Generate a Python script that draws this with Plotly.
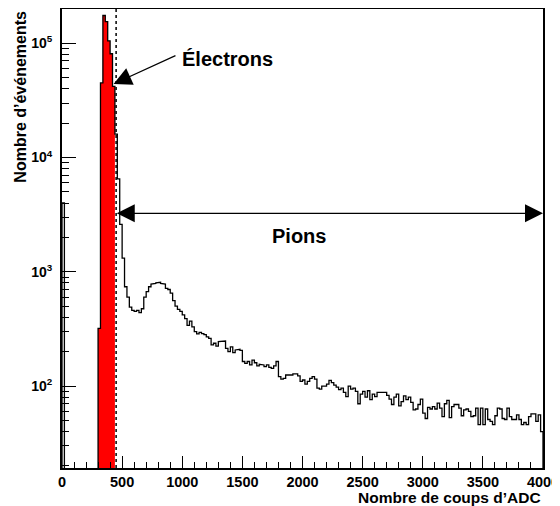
import numpy as np
import plotly.graph_objects as go

# ADC spectrum, 20-count bins from 0 to 4000
BIN_WIDTH = 20
first_bin = [4000]
empty_bins = [0, 0, 0, 0, 0, 0, 0, 0, 0, 0, 0, 0, 0, 0]          # 20 .. 280
electron_peak = [320, 45000, 175000, 155000, 105000, 81000, 42000]  # 300 .. 420
falloff = [16000, 6500, 2600, 1320, 740, 600, 490, 460, 450, 460, 440, 475]  # 440 .. 660
pion_bump = [600, 670, 740, 780, 790, 800, 810, 790, 780, 715, 700, 650,
             560, 500, 470, 450, 420, 390, 340, 370, 330, 300]    # 680 .. 1100
tail_a = [286, 295, 288, 282, 270, 262, 229, 237, 224, 245, 248, 248, 214, 200,
          220, 196, 207, 210, 205, 164, 158, 164, 153, 169, 160, 150, 155, 153,
          148, 153, 146, 143, 150, 164, 121, 115, 117, 125, 125, 125, 128, 128,
          123, 110]                                              # 1120 .. 1980
tail_b = [113, 104, 110, 117, 121, 115, 96, 94, 100, 100, 104, 112, 107, 102,
          98, 93, 96, 88, 81, 100, 94, 96, 90, 70, 85, 90, 80, 91, 76, 85,
          81, 88, 88, 88, 88, 83, 77, 69, 80, 85, 67, 73, 82, 76, 80, 72,
          62, 63, 69, 77]                                        # 2000 .. 2980
tail_c = [58, 52, 65, 63, 66, 63, 71, 64, 54, 70, 75, 53, 66, 69, 69, 64,
          55, 62, 63, 60, 54, 55, 64, 46, 64, 46, 63, 51, 49, 46, 55, 64,
          63, 52, 51, 64, 54, 51, 51, 56, 51, 46, 48, 46, 54, 57, 57, 49,
          56, 40]                                                # 3000 .. 3980

electron_window = (300, 440)   # red filled bins
cut_value = 450                # dotted line

counts = np.array(first_bin + empty_bins + electron_peak + falloff + pion_bump
                  + tail_a + tail_b + tail_c, dtype=float)
edges = np.arange(len(counts) + 1) * BIN_WIDTH

FLOOR = 1.0  # below the visible range, stands in for empty bins on log axis
shown = np.where(counts > 0, counts, FLOOR)

# step outline
xs = np.concatenate([[edges[0]], np.repeat(edges, 2)[1:-1], [edges[-1]]])
ys = np.concatenate([[FLOOR], np.repeat(shown, 2), [FLOOR]])

# red filled region
sel = (edges[:-1] >= electron_window[0]) & (edges[1:] <= electron_window[1])
lo = edges[:-1][sel]
hi = edges[1:][sel]
fx = np.concatenate([[lo[0]], np.ravel(np.column_stack([lo, hi])), [hi[-1]]])
fy = np.concatenate([[FLOOR], np.repeat(shown[sel], 2), [FLOOR]])

FONT = "Liberation Sans"

fig = go.Figure()
fig.add_trace(go.Scatter(x=fx, y=fy, mode="lines", fill="toself",
                         fillcolor="#ff0000", line=dict(color="#ff0000", width=0),
                         hoverinfo="skip"))
fig.add_trace(go.Scatter(x=xs, y=ys, mode="lines",
                         line=dict(color="black", width=1.3)))

fig.add_shape(type="line", x0=cut_value, x1=cut_value, y0=0, y1=1,
              xref="x", yref="paper", line=dict(color="black", width=1.5, dash="dot"))

# arrows
fig.add_annotation(x=429, y=np.log10(44000), ax=956, ay=np.log10(79000),
                   xref="x", yref="y", axref="x", ayref="y", text="",
                   showarrow=True, arrowhead=2, arrowsize=3, arrowwidth=1.2,
                   arrowcolor="black")
fig.add_annotation(x=4000, y=np.log10(3250), ax=443, ay=np.log10(3250),
                   xref="x", yref="y", axref="x", ayref="y", text="",
                   showarrow=True, arrowhead=2, arrowsize=3, arrowwidth=1.2,
                   startarrowhead=2, startarrowsize=3, arrowside="end+start",
                   arrowcolor="black")

fig.add_annotation(x=983, y=np.log10(73000), xref="x", yref="y", text="Électrons",
                   showarrow=False, xanchor="left", yanchor="middle",
                   font=dict(family=FONT, size=20, color="black", weight="bold"))
fig.add_annotation(x=1970, y=np.log10(2060), xref="x", yref="y", text="Pions",
                   showarrow=False, xanchor="center", yanchor="middle",
                   font=dict(family=FONT, size=20, color="black", weight="bold"))

# axis titles
fig.add_annotation(x=1, y=-0.064, xref="paper", yref="paper",
                   text="Nombre de coups d\u2019ADC", showarrow=False,
                   xanchor="right", yanchor="middle",
                   font=dict(family=FONT, size=15.5, color="black", weight="bold"))
fig.add_annotation(x=-0.088, y=1, xref="paper", yref="paper",
                   text="Nombre d\u2019événements", showarrow=False, textangle=-90,
                   xanchor="center", yanchor="top",
                   font=dict(family=FONT, size=16, color="black", weight="bold"))

fig.update_xaxes(range=[0, 4000], dtick=500, tick0=0, ticks="inside", ticklen=12,
                 tickwidth=1, tickcolor="black",
                 minor=dict(dtick=100, ticks="inside", ticklen=6, tickcolor="black"),
                 showline=True, linewidth=2, linecolor="black", mirror=True,
                 showgrid=False, zeroline=False, automargin=False,
                 tickfont=dict(family=FONT, size=14.5, color="black", weight="bold"))

y_major = [1e2, 1e3, 1e4, 1e5]
y_labels = ["10<sup>2</sup>", "10<sup>3</sup>", "10<sup>4</sup>", "10<sup>5</sup>"]
y_minor = [k * 10 ** e for e in range(1, 6) for k in range(2, 10)]
fig.update_yaxes(type="log", range=[1.283, 5.300], tickvals=y_major, ticktext=y_labels,
                 ticks="inside", ticklen=14, tickwidth=1, tickcolor="black",
                 minor=dict(tickvals=y_minor, ticks="inside", ticklen=7, tickcolor="black"),
                 showline=True, linewidth=2, linecolor="black", mirror=True,
                 showgrid=False, zeroline=False, automargin=False, ticklabelstandoff=5,
                 tickfont=dict(family=FONT, size=14, color="black", weight="bold"))

# page body has an 8px margin, so the figure is sized to fit the 560x506 window
fig.update_layout(width=552, height=498, margin=dict(l=54, r=17, t=0.5, b=37.5),
                  plot_bgcolor="white", paper_bgcolor="white", showlegend=False)

fig.write_html("out.html")
